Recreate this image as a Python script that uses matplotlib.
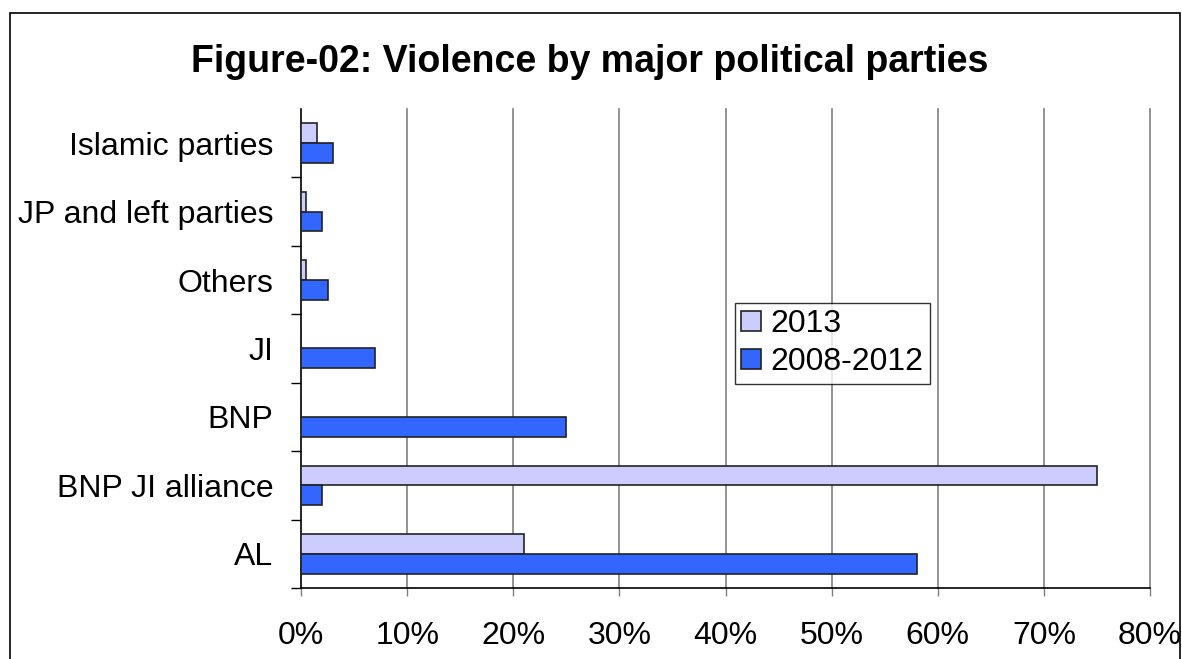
import matplotlib.pyplot as plt
import numpy as np
from matplotlib.patches import Rectangle
from matplotlib.ticker import FixedLocator, PercentFormatter

categories = ['AL', 'BNP JI alliance', 'BNP', 'JI', 'Others', 'JP and left parties', 'Islamic parties']
share_2013 = [21, 75, 0, 0, 0.5, 0.5, 1.5]
share_2008_2012 = [58, 2, 25, 7, 2.5, 2, 3]

plt.rcParams['font.family'] = ['Liberation Sans', 'DejaVu Sans']

fig = plt.figure(figsize=(11.82, 6.59), dpi=100)
ax = fig.add_axes([301 / 1182, 1 - 588 / 659, (1150 - 301) / 1182, (588 - 109) / 659])

y = np.arange(len(categories))
h = 0.29
ax.barh(y + h / 2, share_2013, height=h, color='#CCCCFF', edgecolor='#222222', linewidth=1.2,
        label='2013', zorder=3)
ax.barh(y - h / 2, share_2008_2012, height=h, color='#3366FF', edgecolor='#222222', linewidth=1.2,
        label='2008-2012', zorder=3)

ax.set_xlim(0, 80)
ax.set_ylim(-0.5, len(categories) - 0.5)
ax.set_xticks(np.arange(0, 81, 10))
ax.xaxis.set_major_formatter(PercentFormatter(decimals=0))
ax.set_yticks(y)
ax.set_yticklabels(categories)
ax.yaxis.set_minor_locator(FixedLocator(np.arange(-0.5, len(categories) - 1, 1)))
ax.tick_params(axis='y', which='major', length=0, pad=20, labelsize=23)
ax.tick_params(axis='y', which='minor', length=7, width=1, color='black')
ax.tick_params(axis='x', length=6, width=1, color='#808080', pad=18, labelsize=23)

for x in np.arange(10, 81, 10):
    ax.axvline(x, color='#808080', linewidth=1.2, zorder=0, clip_on=False)
for s in ['top', 'right']:
    ax.spines[s].set_visible(False)
ax.spines['left'].set_linewidth(1.2)
ax.spines['bottom'].set_linewidth(1.2)

leg = ax.legend(loc='upper left', bbox_to_anchor=((735 - 301) / 849, 1 - (303 - 109) / 479),
                fontsize=23, frameon=True, fancybox=False, handlelength=0.6, handleheight=0.6,
                handletextpad=0.3, borderpad=0.2, labelspacing=0.25, borderaxespad=0)
leg.get_frame().set_edgecolor('black')
leg.get_frame().set_linewidth(1)

fig.text(590 / 1182, 1 - 62 / 659, 'Figure-02: Violence by major political parties',
         ha='center', va='center', fontsize=27, fontweight='bold')

fig.patches.append(Rectangle((10 / 1182, -0.1), (1180 - 10) / 1182, 1.1 - 13 / 659,
                             transform=fig.transFigure, fill=False, edgecolor='black',
                             linewidth=1.2))

fig.savefig('out.png', dpi=100)
